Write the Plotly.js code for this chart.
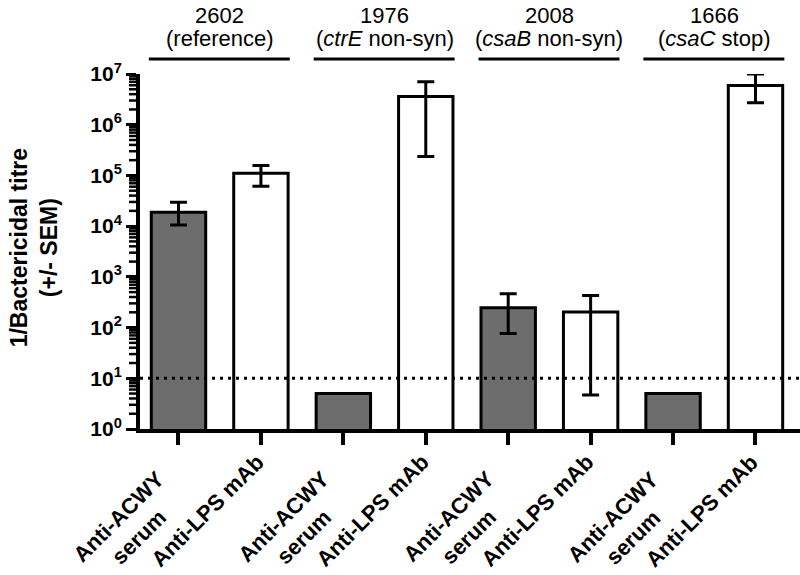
<!DOCTYPE html>
<html>
<head>
<meta charset="utf-8">
<script src="https://cdn.plot.ly/plotly-3.0.1.min.js"></script>
<style>html,body{margin:0;padding:0;background:#fff;}#chart{width:800px;height:575px;}</style>
</head>
<body>
<div id="chart"></div>
<script>
// ---- data ----
const strains = ['2602', '1976', '2008', '1666'];
const strainNotes = ['(reference)', '(<i>ctrE</i> non-syn)', '(<i>csaB</i> non-syn)', '(<i>csaC</i> stop)'];
const treatments = ['Anti-ACWY<br>serum', 'Anti-LPS mAb'];
const serumTitre = [1.87e4, 5, 247, 5];
const serumUpper = [2.95e4, 5, 464, 5];
const serumLower = [1.05e4, 5, 76, 5];
const mabTitre = [1.1e5, 3.6e6, 203, 5.9e6];
const mabUpper = [1.57e5, 7.0e6, 429, 1.0e7];
const mabLower = [6.1e4, 2.36e5, 4.7, 2.7e6];
const detectionLimit = 10;
const yTickVals = [1, 10, 100, 1e3, 1e4, 1e5, 1e6, 1e7];
const yTickText = ['10<sup>0</sup>', '10<sup>1</sup>', '10<sup>2</sup>', '10<sup>3</sup>', '10<sup>4</sup>', '10<sup>5</sup>', '10<sup>6</sup>', '10<sup>7</sup>'];

// ---- layout helpers ----
const FONT = '"Liberation Sans", Arial, Helvetica, sans-serif';
const Y_RANGE = [0, 7];
const serumX = strains.map((s, i) => 2 * i);
const mabX = strains.map((s, i) => 2 * i + 1);
const barW = 0.66;

const errStyle = { color: '#000', thickness: 3, width: 8.5 };

const traces = [
  {
    type: 'bar', x: serumX, y: serumTitre, width: barW,
    marker: { color: '#6d6d6d', line: { color: '#000', width: 3 } },
    error_y: Object.assign({ type: 'data', symmetric: false,
      array: serumUpper.map((u, i) => u - serumTitre[i]),
      arrayminus: serumLower.map((l, i) => serumTitre[i] - l) }, errStyle),
    cliponaxis: false, hoverinfo: 'none'
  },
  {
    type: 'bar', x: mabX, y: mabTitre, width: barW,
    marker: { color: '#ffffff', line: { color: '#000', width: 3 } },
    error_y: Object.assign({ type: 'data', symmetric: false,
      array: mabUpper.map((u, i) => u - mabTitre[i]),
      arrayminus: mabLower.map((l, i) => mabTitre[i] - l) }, errStyle),
    cliponaxis: false, hoverinfo: 'none'
  }
];

const annotations = [];
const shapes = [];
strains.forEach((s, i) => {
  annotations.push({
    xref: 'x', yref: 'paper', x: 2 * i + 0.5, y: 1.166, yanchor: 'middle', xanchor: 'center',
    text: s, showarrow: false, font: { family: FONT, size: 22, color: '#000' }
  });
  annotations.push({
    xref: 'x', yref: 'paper', x: 2 * i + 0.5, y: 1.099, yanchor: 'middle', xanchor: 'center',
    text: strainNotes[i], showarrow: false, font: { family: FONT, size: 22, color: '#000' }
  });
  shapes.push({
    type: 'line', xref: 'x', yref: 'paper', x0: 2 * i - 0.36, x1: 2 * i + 1.35, y0: 1.042, y1: 1.042,
    line: { color: '#000', width: 3 }
  });
  treatments.forEach((t, j) => {
    const two = t.indexOf('<br>') >= 0;
    annotations.push({
      xref: 'x', yref: 'paper', x: 2 * i + j, y: two ? -0.0958 : -0.0507,
      xanchor: 'right', yanchor: 'top', xshift: two ? 14 : 11,
      text: t, showarrow: false, textangle: -45, align: 'center',
      font: { family: FONT, size: 22, color: '#000', weight: 'bold' }
    });
  });
});
annotations.push({
  xref: 'paper', yref: 'paper', x: -0.16, y: 0.51, xanchor: 'center', yanchor: 'middle',
  text: '1/Bactericidal titre<br>(+/- SEM)', showarrow: false, textangle: -90,
  font: { family: FONT, size: 23, color: '#000', weight: 'bold' }
});
shapes.push({
  type: 'line', xref: 'paper', yref: 'y', x0: 0, x1: 1,
  y0: detectionLimit, y1: detectionLimit,
  line: { color: '#000', width: 3, dash: '3px,5px' }
});
// minor log ticks (2..9 within each decade) on the y axis, as axis decoration,
// placed in paper coordinates so they are not clipped to the plot area
yTickVals.slice(0, -1).forEach(v => {
  for (let k = 2; k <= 9; k++) {
    const p = (Math.log10(k * v) - Y_RANGE[0]) / (Y_RANGE[1] - Y_RANGE[0]);
    shapes.push({
      type: 'line', xref: 'paper', yref: 'paper', x0: -0.0167, x1: -0.004,
      y0: p, y1: p, layer: 'above',
      line: { color: '#000', width: 2.5 }
    });
  }
});

const layout = {
  width: 800, height: 575,
  margin: { l: 140, r: 0, t: 74, b: 146, pad: 0 },
  paper_bgcolor: '#fff', plot_bgcolor: '#fff',
  showlegend: false, barmode: 'overlay',
  font: { family: FONT, color: '#000' },
  xaxis: {
    range: [-0.467, 7.54], showgrid: false, zeroline: false,
    showline: true, linecolor: '#000', linewidth: 4,
    ticks: 'outside', ticklen: 12, tickwidth: 4, tickcolor: '#000',
    tickmode: 'array', tickvals: serumX.concat(mabX), showticklabels: false
  },
  yaxis: {
    type: 'log', range: Y_RANGE, showgrid: false, zeroline: false,
    showline: true, linecolor: '#000', linewidth: 4,
    ticks: 'outside', ticklen: 10, tickwidth: 3, tickcolor: '#000',
    tickmode: 'array', tickvals: yTickVals, ticktext: yTickText,
    tickfont: { family: FONT, size: 21, color: '#000', weight: 'bold' }
  },
  annotations: annotations,
  shapes: shapes
};

Plotly.newPlot('chart', traces, layout, { staticPlot: true, displayModeBar: false });
</script>
</body>
</html>
